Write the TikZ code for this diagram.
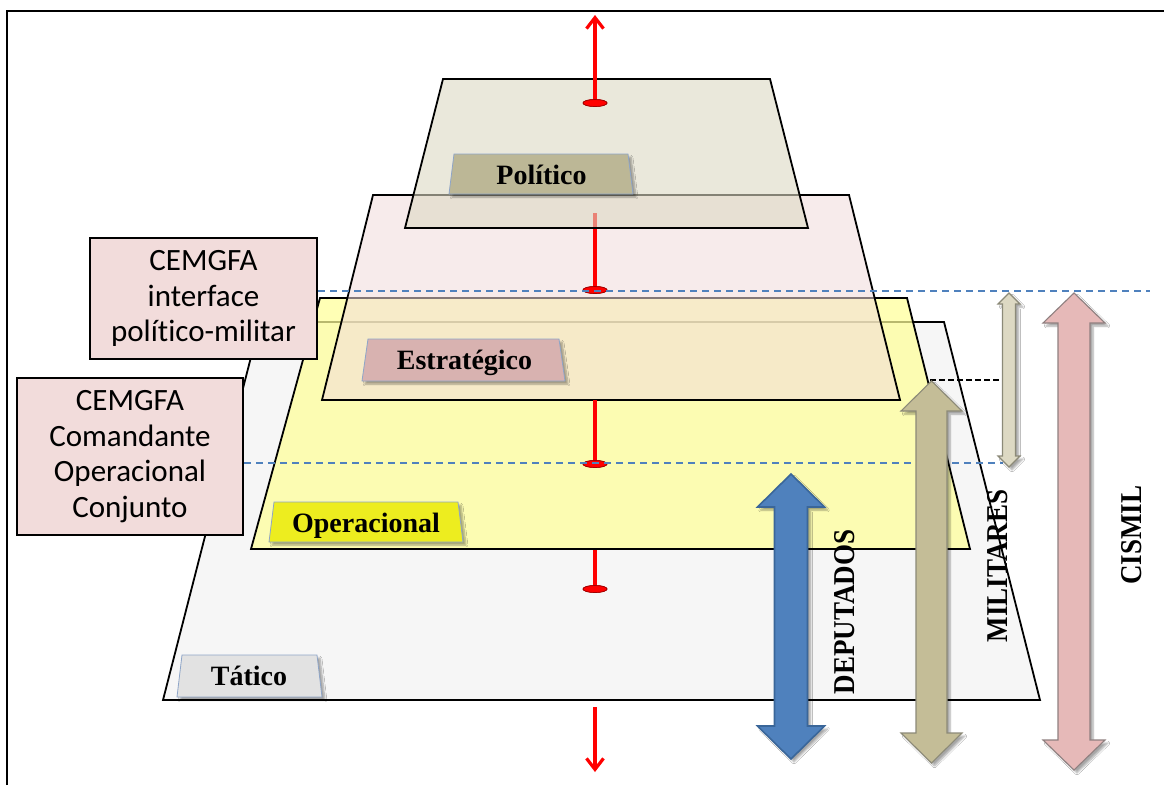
\documentclass[tikz,border=0pt]{standalone}
\usepackage{fontspec}
\setmainfont{Liberation Serif}
\newfontfamily\boxfont[Ligatures=NoCommon]{Carlito}
\usetikzlibrary{arrows.meta,shadows.blur,shapes.geometric}

\definecolor{tatfill}{HTML}{F6F6F6}
\definecolor{opfill}{HTML}{FFFF99}
\definecolor{estfill}{HTML}{F2DCDB}
\definecolor{polfill}{HTML}{DDD9C3}
\definecolor{poltab}{HTML}{BCB796}
\definecolor{esttab}{HTML}{D8B2B0}
\definecolor{optab}{HTML}{EDED1F}
\definecolor{tattab}{HTML}{E2E2E2}
\definecolor{tabline}{HTML}{8EA5C8}
\definecolor{cembox}{HTML}{F2DCDB}
\definecolor{depfill}{HTML}{4F81BD}
\definecolor{depline}{HTML}{3A6699}
\definecolor{milfill}{HTML}{C4BD97}
\definecolor{milline}{HTML}{8C8A78}
\definecolor{smallfill}{HTML}{DDD9C3}
\definecolor{cisfill}{HTML}{E6B9B8}
\definecolor{cisline}{HTML}{8F8080}
\definecolor{dashblue}{HTML}{4F81BD}
\definecolor{markline}{HTML}{A00000}

\newcommand{\dblarrow}[7][]{%
  \path[#1] (#2,#3) -- ({#2+#5},{#3+#7}) -- ({#2+#6},{#3+#7}) -- ({#2+#6},{#4-#7})
   -- ({#2+#5},{#4-#7}) -- (#2,#4) -- ({#2-#5},{#4-#7}) -- ({#2-#6},{#4-#7})
   -- ({#2-#6},{#3+#7}) -- ({#2-#5},{#3+#7}) -- cycle;}

\begin{document}
\begin{tikzpicture}[x=1pt,y=-1pt,
  level/.style={draw=black, line width=1.8pt, line join=miter},
  tab/.style={draw=tabline, line width=0.8pt,
    blur shadow={shadow xshift=3pt, shadow yshift=-3pt, shadow blur steps=6, shadow opacity=35}},
  tablabel/.style={font=\bfseries\fontsize{28}{30}\selectfont, inner sep=0pt, anchor=base},
  axisline/.style={draw=red, line width=3.2pt},
  marker/.style={ellipse, draw=markline, line width=0.7pt, fill=red, minimum width=24pt, minimum height=7pt, inner sep=0pt},
  cemgfa/.style={draw=black, line width=1.8pt, fill=cembox, align=center, inner sep=0pt,
    font=\boxfont\fontsize{31}{35.5}\selectfont},
  guide/.style={draw=dashblue, line width=1.4pt, dash pattern=on 7pt off 5pt},
  sidelabel/.style={font=\bfseries\fontsize{27}{30}\selectfont, inner sep=0pt, rotate=90},
  blockshadow/.style={blur shadow={shadow xshift=3pt, shadow yshift=-3pt, shadow blur steps=6, shadow opacity=35}}
]
\useasboundingbox (0,0) rectangle (1164,785);
\fill[white] (0,0) rectangle (1164,785);

% frame
\draw[line width=2pt] (7,785) -- (7,11) -- (1164,11);

% Tatico level
\path[level, fill=tatfill] (260,322) -- (944,322) -- (1040,700) -- (163,700) -- cycle;
\path[tab, fill=tattab] (182,655) -- (317,655) -- (322,697) -- (177,697) -- cycle;
\node[tablabel] (ltat) at (249,685) {Tático};
\node[marker] (m4) at (595,589) {};
\coordinate (s4) at (595,550);
\draw[axisline] (s4) -- (m4.center);
\node[marker] at (m4) {};

% Operacional level
\path[level, fill=opfill, fill opacity=0.72] (320,298) -- (907,298) -- (970,549) -- (251,549) -- cycle;
\path[tab, fill=optab] (274,502) -- (458,502) -- (463,542) -- (269,542) -- cycle;
\node[tablabel] (lop) at (366,532) {Operacional};

% Estrategico level
\path[level, fill=estfill, fill opacity=0.55] (373,195) -- (849,195) -- (900,400) -- (322,400) -- cycle;
\path[tab, fill=esttab] (368,339) -- (559,339) -- (565,381) -- (362,381) -- cycle;
\node[tablabel] (lest) at (464.5,369) {Estratégico};
\coordinate (s3) at (595,400);
\node[marker] (m3) at (595,464) {};
\draw[axisline] (s3) -- (m3.center);
\node[marker] at (m3) {};
\coordinate (s2) at (595,213);
\node[marker] (m2) at (595,290) {};
\draw[axisline] (s2) -- (m2.center);
\node[marker] at (m2) {};

% Politico level
\path[level, fill=polfill, fill opacity=0.6] (443,79) -- (770,79) -- (808,228) -- (405,228) -- cycle;
\path[tab, fill=poltab] (454,154) -- (628,154) -- (633,194) -- (449,194) -- cycle;
\node[tablabel] (lpol) at (541.5,184) {Político};
\node[marker] (m1) at (595,103) {};
\coordinate (top) at (595,15);
\draw[axisline, -{Straight Barb[length=11pt,width=17pt]}] (m1.center) -- (top);
\node[marker] at (m1) {};

% bottom arrow
\coordinate (b0) at (595,707);
\coordinate (b1) at (595,772);
\draw[axisline, -{Straight Barb[length=11pt,width=17pt]}] (b0) -- (b1);

% CEMGFA boxes
\node[cemgfa, minimum width=227pt, minimum height=121pt] (box1) at (203.5,298.5)
  {CEMGFA\\interface\\político-militar};
\node[cemgfa, minimum width=226pt, minimum height=157pt] (box2) at (130,456.5)
  {CEMGFA\\Comandante\\Operacional\\Conjunto};

% guide lines
\coordinate (g1s) at (318,291);
\coordinate (g1e) at (1150,291);
\coordinate (g2s) at (244,463);
\coordinate (g2e) at (1003,463);
\draw[guide] (g1s) -- (g1e);
\draw[guide] (g2s) -- (g2e);
\coordinate (k1) at (930,380);
\coordinate (k2) at (1000,380);
\draw[black, line width=1.3pt, dash pattern=on 6pt off 3pt] (k1) -- (k2);

% block arrows
\dblarrow[fill=depfill, draw=depline, line width=1.6pt, blockshadow]{791}{474}{759}{33.5}{16.5}{33}
\dblarrow[fill=milfill, draw=milline, line width=1.1pt, blockshadow]{931.5}{381}{763}{30.5}{15.5}{30}
\dblarrow[fill=smallfill, draw=milline, line width=1.1pt, blockshadow]{1009}{293}{467}{11}{6.5}{11}
\dblarrow[fill=cisfill, draw=cisline, line width=1.1pt, blockshadow]{1074}{293}{770}{31}{16}{30}

% side labels
\node[sidelabel] (ldep) at (845,612) {\scalebox{1}[1.12]{DEPUTADOS}};
\node[sidelabel] (lmil) at (998,566) {\scalebox{1}[1.12]{MILITARES}};
\node[sidelabel] (lcis) at (1131.5,535) {\scalebox{1}[1.12]{CISMIL}};
\end{tikzpicture}
\end{document}
